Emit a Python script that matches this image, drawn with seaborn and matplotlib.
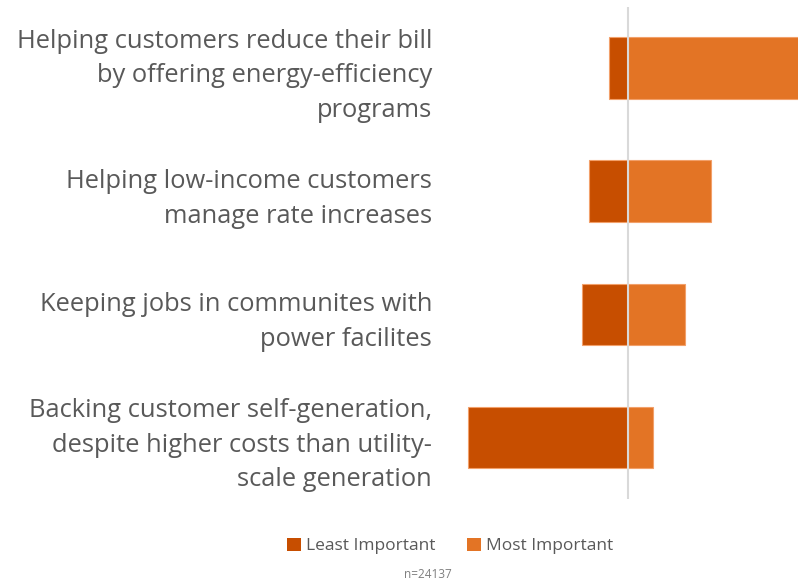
import matplotlib
matplotlib.use("Agg")
import matplotlib.pyplot as plt
import seaborn as sns
import pandas as pd
from matplotlib.patches import Patch

# data (share of respondents)
items = [
    "Helping customers reduce their bill\nby offering energy-efficiency\nprograms",
    "Helping low-income customers\nmanage rate increases",
    "Keeping jobs in communites with\npower facilites",
    "Backing customer self-generation,\ndespite higher costs than utility-\nscale generation",
]
least_important = [1.9, 3.9, 4.6, 16.0]
most_important = [17.5, 8.3, 5.7, 2.5]
series_names = ["Least Important", "Most Important"]
n_label = "n=24137"

colors = {"Least Important": "#C74E00", "Most Important": "#E37425"}
text_color = "#595959"

# long form table, least important drawn to the left of zero
df = pd.DataFrame({
    "item": items * 2,
    "value": [-v for v in least_important] + most_important,
    "type": [series_names[0]] * len(items) + [series_names[1]] * len(items),
})

sns.set_theme(style="white")
plt.rcParams["font.family"] = ["Open Sans", "DejaVu Sans"]

fig = plt.figure(figsize=(7.98, 5.79), dpi=100)
ax = fig.add_axes([460 / 798, 1 - 499 / 579, 338 / 798, 492.5 / 579])

sns.barplot(data=df, y="item", x="value", hue="type", order=items,
            hue_order=series_names, palette=colors, dodge=False,
            saturation=1, width=0.5, orient="h", edgecolor="#F2A06A",
            linewidth=0.8, legend=False, ax=ax)

ax.axvline(0, color="#D9D9D9", linewidth=1.5, zorder=5)
ax.set_xlim(-16.8, 17.0)
ax.set_ylim(3.5, -0.5)
ax.set_xticks([])
ax.set_xlabel("")
ax.set_ylabel("")
ax.tick_params(axis="y", length=0, pad=20, labelsize=18.4, labelcolor=text_color)
for lbl in ax.get_yticklabels():
    lbl.set_linespacing(1.5)
    lbl.set_horizontalalignment("right")
sns.despine(ax=ax, left=True, bottom=True, top=True, right=True)

handles = [Patch(facecolor=colors[s], edgecolor="none") for s in series_names]
fig.legend(handles, series_names, loc="center", ncol=2, frameon=False,
           bbox_to_anchor=(450 / 798, 1 - 546 / 579), fontsize=12.5,
           labelcolor=text_color, handlelength=0.8, handleheight=0.8,
           handletextpad=0.3, columnspacing=1.8)
fig.text(428 / 798, 1 - 574 / 579, n_label, ha="center", va="center",
         fontsize=8.5, color="#7F7F7F")

fig.savefig("out.png", dpi=100)
